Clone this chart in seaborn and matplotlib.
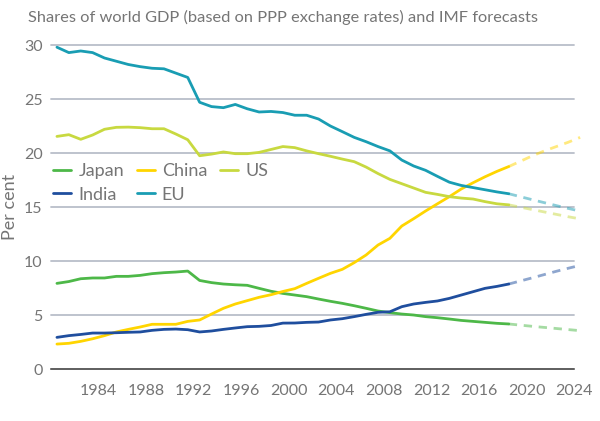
import matplotlib
matplotlib.use('Agg')
import matplotlib.pyplot as plt
import seaborn as sns
import numpy as np
import pandas as pd

years = list(range(1980, 2019))
forecast_years = list(range(2018, 2025))

japan = [7.93, 8.1, 8.36, 8.43, 8.43, 8.58, 8.58, 8.67, 8.83, 8.92,
         8.98, 9.07, 8.2, 8.0, 7.87, 7.8, 7.75, 7.47, 7.2, 7.0,
         6.85, 6.7, 6.48, 6.27, 6.08, 5.86, 5.62, 5.37, 5.22, 5.09,
         5.0, 4.85, 4.75, 4.63, 4.5, 4.41, 4.32, 4.23, 4.17]
china = [2.31, 2.38, 2.56, 2.8, 3.09, 3.43, 3.67, 3.89, 4.14, 4.14,
         4.14, 4.41, 4.54, 5.09, 5.62, 6.02, 6.33, 6.64, 6.88, 7.18,
         7.44, 7.93, 8.4, 8.86, 9.23, 9.85, 10.56, 11.48, 12.1, 13.24,
         13.92, 14.63, 15.3, 15.96, 16.67, 17.25, 17.8, 18.3, 18.75]
us = [21.54, 21.7, 21.27, 21.67, 22.2, 22.38, 22.4, 22.35, 22.25, 22.25,
      21.76, 21.23, 19.75, 19.9, 20.1, 19.94, 19.94, 20.06, 20.33, 20.6,
      20.5, 20.2, 19.94, 19.7, 19.44, 19.2, 18.7, 18.1, 17.56, 17.16,
      16.76, 16.36, 16.17, 15.96, 15.83, 15.74, 15.5, 15.3, 15.2]
india = [2.93, 3.09, 3.2, 3.33, 3.33, 3.36, 3.4, 3.43, 3.58, 3.67,
         3.7, 3.64, 3.43, 3.52, 3.67, 3.8, 3.92, 3.95, 4.03, 4.25,
         4.26, 4.32, 4.35, 4.54, 4.66, 4.85, 5.06, 5.25, 5.3, 5.77,
         6.02, 6.17, 6.3, 6.54, 6.85, 7.16, 7.47, 7.65, 7.87]
eu = [29.8, 29.3, 29.45, 29.3, 28.8, 28.5, 28.2, 28.0, 27.85, 27.8,
      27.4, 27.0, 24.7, 24.3, 24.2, 24.5, 24.1, 23.8, 23.85, 23.75,
      23.5, 23.5, 23.15, 22.5, 21.98, 21.45, 21.05, 20.6, 20.2, 19.35,
      18.8, 18.4, 17.84, 17.3, 17.0, 16.8, 16.6, 16.4, 16.23]

japan_fc = [4.17, 4.06, 3.95, 3.85, 3.75, 3.65, 3.55]
china_fc = [18.75, 19.25, 19.75, 20.2, 20.6, 21.0, 21.45]
us_fc = [15.2, 14.98, 14.76, 14.54, 14.32, 14.1, 13.9]
india_fc = [7.87, 8.16, 8.45, 8.75, 9.05, 9.33, 9.6]
eu_fc = [16.23, 15.95, 15.67, 15.4, 15.13, 14.87, 14.62]

regions = ['Japan', 'China', 'US', 'India', 'EU']
colors = {'Japan': '#4db848', 'China': '#ffd500', 'US': '#c8d940',
          'India': '#1f4e9e', 'EU': '#199db3'}

hist = pd.DataFrame({'year': years, 'Japan': japan, 'China': china, 'US': us,
                     'India': india, 'EU': eu}).melt('year', var_name='region', value_name='share')
fc = pd.DataFrame({'year': forecast_years, 'Japan': japan_fc, 'China': china_fc, 'US': us_fc,
                   'India': india_fc, 'EU': eu_fc}).melt('year', var_name='region', value_name='share')

sns.set_style('white')
plt.rcParams['font.family'] = ['Lato', 'DejaVu Sans']

fig = plt.figure(figsize=(6, 4.21), dpi=100)
ax = fig.add_axes([0.085, 0.1235, 0.872, 0.7695])

grey = '#757575'
for v in [5, 10, 15, 20, 25, 30]:
    ax.axhline(v, color='#b9bec9', lw=1.3, zorder=0, clip_on=False)

sns.lineplot(data=fc, x='year', y='share', hue='region', hue_order=regions,
             palette=colors, lw=2.0, alpha=0.5, legend=False, ax=ax,
             dashes=False, linestyle=(0, (3, 2.4)))
sns.lineplot(data=hist, x='year', y='share', hue='region', hue_order=regions,
             palette=colors, lw=2.0, ax=ax)
for ln in ax.get_lines():
    ln.set_clip_on(False)

ax.set_xlim(1979.5, 2023.5)
ax.set_ylim(0, 30)
ax.set_yticks([0, 5, 10, 15, 20, 25, 30])
ax.set_xticks(np.arange(1979.5, 2024, 2), minor=True)
ax.set_xticks(np.arange(1983.5, 2024, 4))
ax.set_xticklabels([str(y) for y in range(1984, 2025, 4)])
ax.tick_params(axis='x', which='both', direction='out', length=5, width=1.1,
               color='#333333', labelsize=11.5, labelcolor=grey, pad=6)
ax.tick_params(axis='y', length=0, labelsize=11.5, labelcolor=grey, pad=6)

for s in ['top', 'right', 'left']:
    ax.spines[s].set_visible(False)
ax.spines['bottom'].set_color('#333333')
ax.spines['bottom'].set_linewidth(1.1)

ax.set_xlabel('')
ax.set_ylabel('Per cent', fontsize=13, color=grey, labelpad=4)

handles, labels = ax.get_legend_handles_labels()
hmap = dict(zip(labels, handles))
order = ['Japan', 'India', 'China', 'EU', 'US']
ax.legend([hmap[k] for k in order], order, ncol=3, frameon=False,
          loc='upper left', bbox_to_anchor=(-0.01, 0.657), fontsize=13,
          labelcolor=grey, handlelength=1.0, handletextpad=0.4,
          columnspacing=0.7, labelspacing=0.4, borderaxespad=0)

fig.text(0.047, 0.958, 'Shares of world GDP (based on PPP exchange rates) and IMF forecasts',
         fontsize=11.8, color=grey, va='center', ha='left')

fig.savefig('out.png', dpi=100)
